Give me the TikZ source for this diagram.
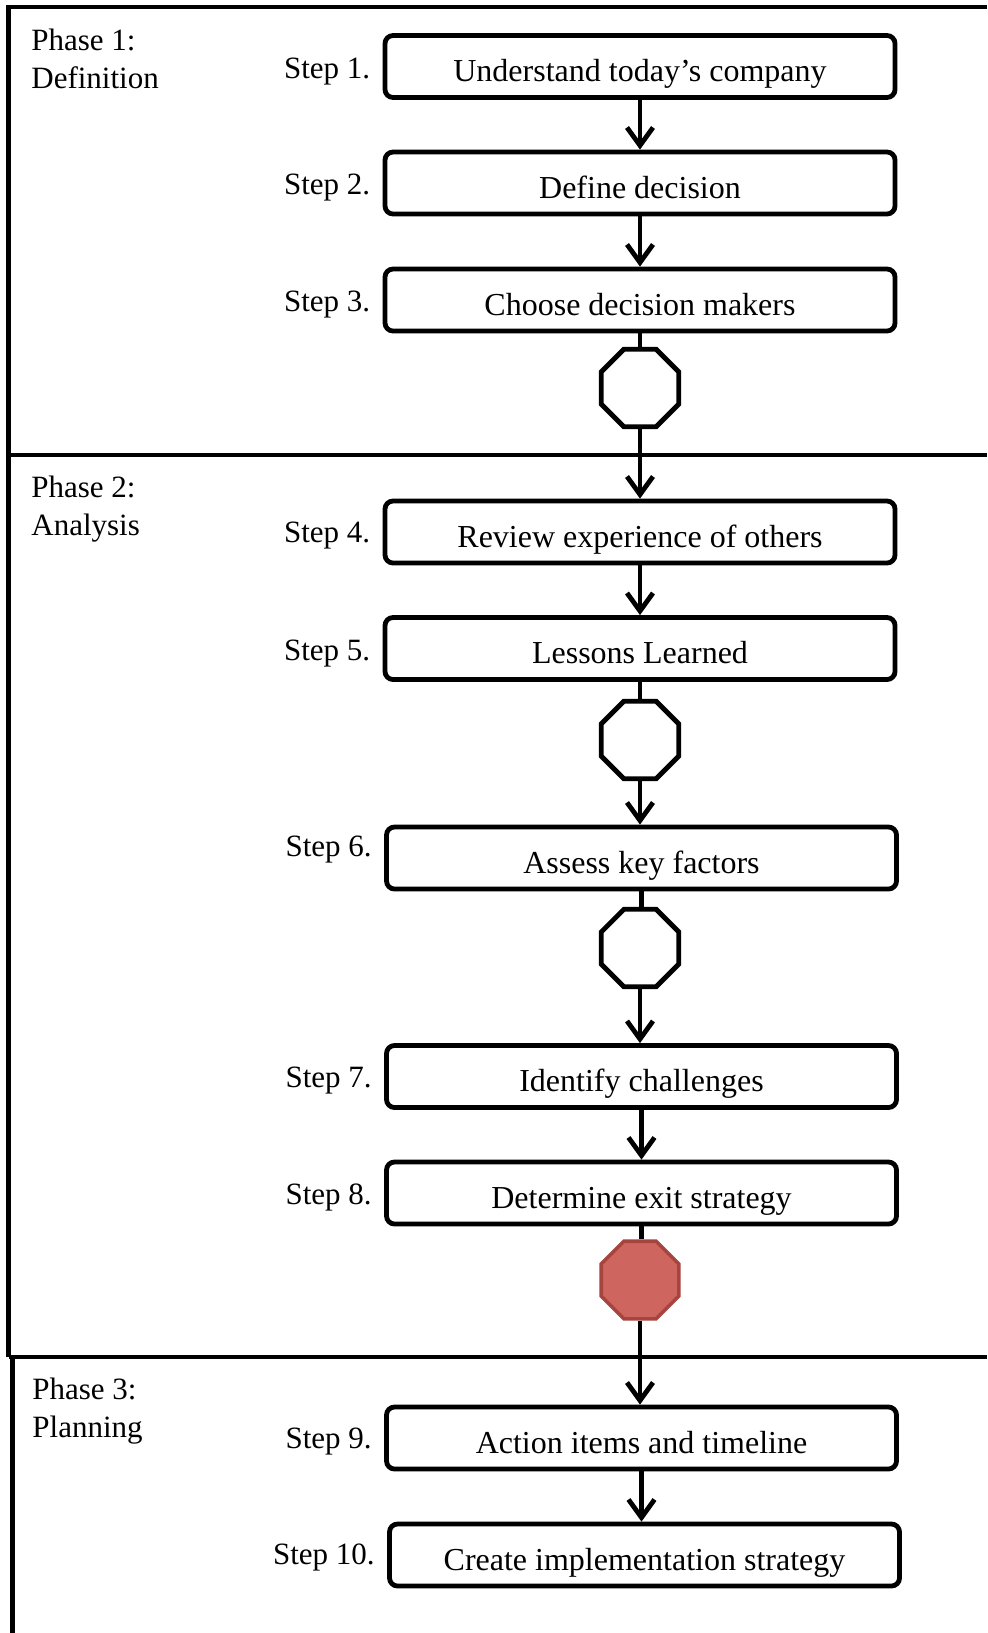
\documentclass[tikz,border=0pt]{standalone}
\usepackage{fontspec}
\setmainfont{Liberation Serif}
\usepackage{tikz}
\usetikzlibrary{arrows.meta, positioning, shapes.geometric}
\definecolor{stopfill}{RGB}{206,101,95}
\definecolor{stopedge}{RGB}{168,68,63}
\tikzset{
    stepbox/.style={draw, line width=2.4pt, rounded corners=4pt, minimum width=255pt, minimum height=31pt, inner sep=0pt, text height=16pt, text depth=1pt, font=\fontsize{16}{19}\selectfont},
    steplabel/.style={inner sep=0pt, font=\fontsize{15.5}{19}\selectfont},
    phaselabel/.style={align=left, anchor=north west, inner sep=0pt, font=\fontsize{15.5}{19}\selectfont},
    stopsign/.style={regular polygon, regular polygon sides=8, draw, line width=2.4pt, minimum size=42pt, inner sep=0pt, fill=white},
    redstop/.style={stopsign, fill=stopfill, draw=stopedge, line width=1.8pt},
    flow/.style={line width=2.4pt, -{Straight Barb[length=9pt, width=13pt]}},
    link/.style={line width=2.4pt},
    frame/.style={line width=2.4pt}
}

\begin{document}
\begin{tikzpicture}[x=0.5pt, y=-0.5pt]
        \useasboundingbox (0,0) rectangle (987,1633);

        % frame and phase dividers
        \draw[frame] (987,7) -- (8.5,7) -- (8.5,1357);
        \draw[frame] (8.5,455) -- (987,455);
        \draw[frame] (8.5,1357) -- (987,1357);
        \draw[frame] (12.5,1357) -- (12.5,1633);

        % Phase 1
        \node[phaselabel] (p1) at (31,29) {Phase 1:\\Definition};
        \node[stepbox] (s1) at (640,66.5) {Understand today's company};
        \node[stepbox] (s2) at (640,183) {Define decision};
        \node[stepbox] (s3) at (640,300) {Choose decision makers};
        \node[stopsign] (o1) at (640,388) {};

        % Phase 2
        \node[phaselabel] (p2) at (31,476) {Phase 2:\\Analysis};
        \node[stepbox] (s4) at (640,532) {Review experience of others};
        \node[stepbox] (s5) at (640,648.5) {Lessons Learned};
        \node[stopsign] (o2) at (640,740) {};
        \node[stepbox] (s6) at (641.5,858) {Assess key factors};
        \node[stopsign] (o3) at (640,948) {};
        \node[stepbox] (s7) at (641.5,1076.5) {Identify challenges};
        \node[stepbox] (s8) at (641.5,1193) {Determine exit strategy};
        \node[redstop] (o4) at (640,1280) {};

        % Phase 3
        \node[phaselabel] (p3) at (32,1378) {Phase 3:\\Planning};
        \node[stepbox] (s9) at (641.5,1438) {Action items and timeline};
        \node[stepbox] (s10) at (644.5,1555) {Create implementation strategy};

        % step numbers
        \foreach \n/\dy in {1/-2.5,2/-2.5,3/-2.5,4/-2,5/-2.5,6/4.4,7/-2,8/-2,9/-2,10/-1}
            \node[steplabel, left=6pt of s\n, yshift=\dy pt] (l\n) {Step \n.};

        % connectors
        \foreach \a/\b in {s3/o1,s5/o2,s6/o3,s8/o4}
            \draw[link] (\a.south) -- (\a.south |- \b.north);
        \foreach \a/\b in {s1/s2,s2/s3,o1/s4,s4/s5,o2/s6,o3/s7,s7/s8,o4/s9,s9/s10}
            \draw[flow] (\a.south) -- (\a.south |- \b.north);
    \end{tikzpicture}
\end{document}
